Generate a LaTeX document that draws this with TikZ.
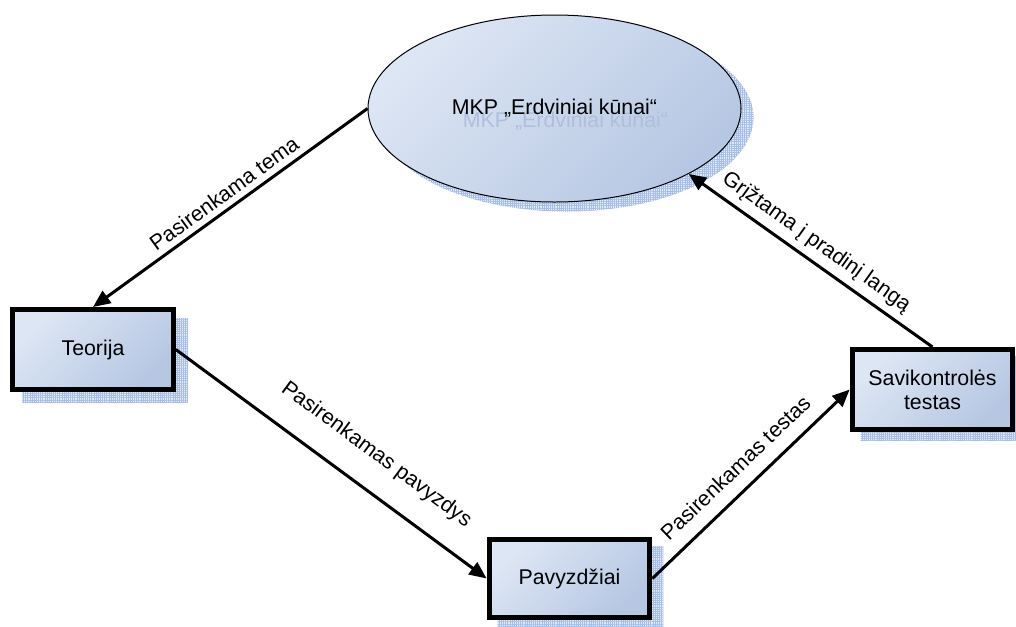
\documentclass[tikz,border=0pt]{standalone}
\usepackage{fontspec}
\setmainfont{Liberation Sans}
\usetikzlibrary{shapes.geometric,arrows.meta,calc,patterns.meta,backgrounds}

\definecolor{fillA}{RGB}{221,230,244}
\definecolor{fillB}{RGB}{182,199,227}
\definecolor{shadeBase}{RGB}{226,234,248}
\definecolor{shadeGrid}{RGB}{165,190,232}
\definecolor{ghost}{RGB}{176,190,220}

\tikzset{
  txt/.style={font=\fontsize{16}{18}\selectfont},
  stepbox/.style={txt, draw=black, line width=3.75pt, rectangle,
    top color=fillA, bottom color=fillB, shading angle=45,
    align=center, inner sep=2pt, minimum width=120.5pt, minimum height=60pt},
  topic/.style={txt, ellipse, draw=black, line width=0.75pt,
    top color=fillA, bottom color=fillB, shading angle=45,
    inner sep=0pt, minimum width=279.75pt, minimum height=140.25pt},
  shadowbase/.style={fill=shadeBase},
  shadowgrid/.style={pattern={Hatch[angle=0,distance=1.6pt,line width=0.45pt]},
    pattern color=shadeGrid},
  conn/.style={line width=2.25pt, -{Triangle[length=13pt,width=11pt]}},
  lbl/.style={txt, sloped, inner sep=2pt}
}

\begin{document}
\begin{tikzpicture}[x=0.75pt,y=-0.75pt]
  \useasboundingbox (0,0) rectangle (1016,626);

  % main topic and the three steps
  \node[topic, path picture={
      \node[txt, text=ghost] at ($(path picture bounding box.center)+(11,13)$)
        {MKP „Erdviniai kūnai“};}] (ell) at (554.5,108.5) {MKP „Erdviniai kūnai“};
  \node[stepbox] (teo) at (93,349.5) {Teorija};
  \node[stepbox] (sav) at (932.5,389.5) {Savikontrolės\\testas};
  \node[stepbox, minimum height=58.5pt] (pav) at (569.5,578.5) {Pavyzdžiai};

  % white page and hatched drop shadows
  \begin{scope}[on background layer]
    \fill[white] (0,0) rectangle (1016,626);
    \foreach \s in {shadowbase,shadowgrid}{
      \path[\s] ($(ell.center)+(12,9)$) ellipse [x radius=140.25pt, y radius=70.5pt];
      \path[\s] ($(teo.north west)+(12,11)$) rectangle ($(teo.south east)+(12,11)$);
      \path[\s] ($(sav.north west)+(11,9)$) rectangle ($(sav.south east)+(11,9)$);
      \path[\s] ($(pav.north west)+(11,9)$) rectangle ($(pav.south east)+(11,9)$);
    }
  \end{scope}

  % transitions
  \draw[conn] (ell.west) -- node[lbl, above=2.5pt, pos=0.49] {Pasirenkama tema} (teo.north);
  \draw[conn] (teo.east) -- node[lbl, above=15pt, pos=0.58] {Pasirenkamas pavyzdys} (pav.west);
  \draw[conn] (pav.east) -- node[lbl, above=8pt, pos=0.5] {Pasirenkamas testas} (sav.west);
  \draw[conn] (sav.north) -- node[lbl, above=3pt, pos=0.52] {Grįžtama į pradinį langą} (ell.-26.5);
\end{tikzpicture}
\end{document}
